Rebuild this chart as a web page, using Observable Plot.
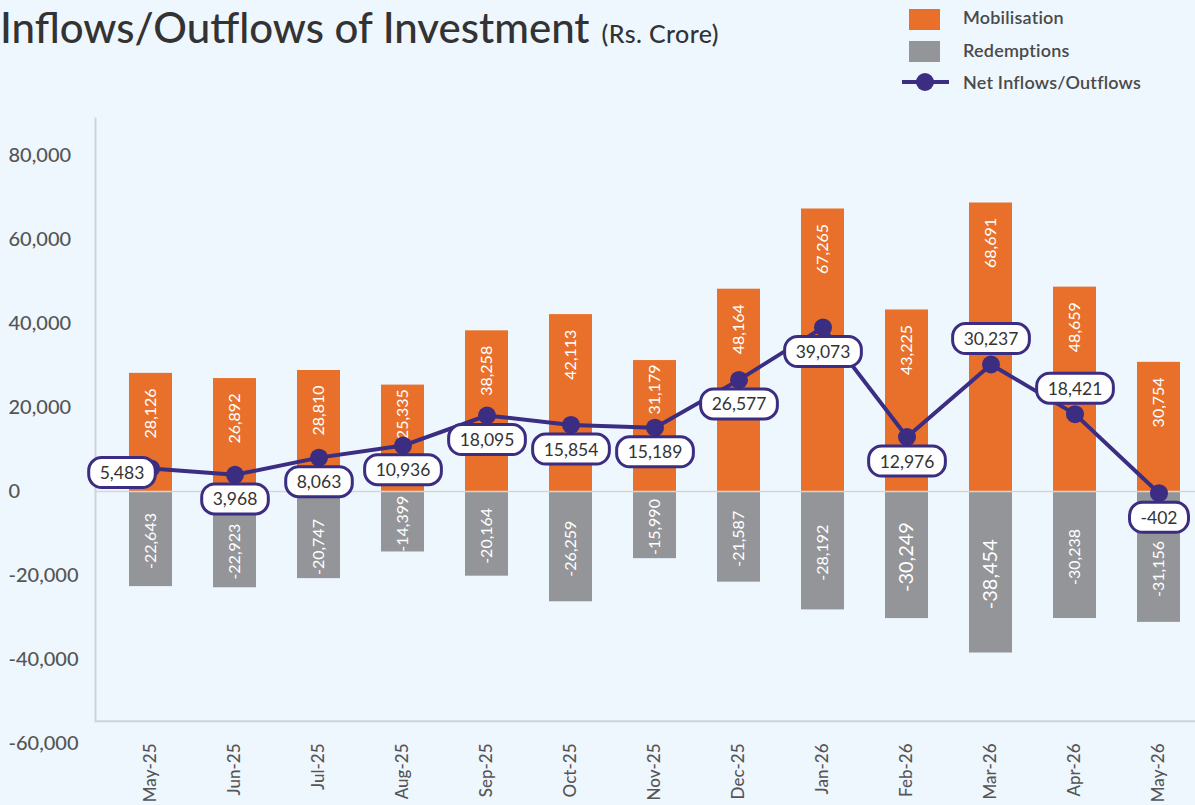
<!DOCTYPE html>
<html>
<head>
<meta charset="utf-8">
<script src="https://cdn.jsdelivr.net/npm/d3@7"></script>
<script src="https://cdn.jsdelivr.net/npm/@observablehq/plot@0.6"></script>
<style>
  html, body { margin: 0; padding: 0; background: #EFF7FE; overflow: hidden; }
  #wrap { position: relative; width: 1195px; height: 805px; font-family: Lato, "Open Sans", sans-serif; }
  #header { position: relative; width: 1195px; height: 100px; }
  #title { position: absolute; left: 0px; top: 5px; white-space: nowrap; color: #333; font-size: 42px; line-height: 44px; font-weight: 500; }
  #title .unit { font-size: 25px; margin-left: 12px; letter-spacing: 0.4px; }
  .leg { position: absolute; left: 963px; font-size: 18px; font-weight: 600; color: #4a4a4a; line-height: 20px; white-space: nowrap; letter-spacing: 0.2px; }
  .sw { position: absolute; left: 909px; width: 31px; height: 21px; }
  #chart svg { display: block; }
</style>
</head>
<body>
<div id="wrap">
  <div id="header">
    <div id="title">Inflows/Outflows of Investment<span class="unit">(Rs. Crore)</span></div>
    <div class="sw" style="top:9px;background:#E8702A"></div>
    <div class="leg" style="top:7px">Mobilisation</div>
    <div class="sw" style="top:41px;background:#939598"></div>
    <div class="leg" style="top:40px">Redemptions</div>
    <svg style="position:absolute;left:900px;top:70px" width="52" height="24">
      <line x1="2" y1="12" x2="49" y2="12" stroke="#3B2D81" stroke-width="4"/>
      <circle cx="25" cy="12" r="9" fill="#3B2D81"/>
    </svg>
    <div class="leg" style="top:72px">Net Inflows/Outflows</div>
  </div>
  <div id="chart"></div>
</div>
<script>
const months = ["May-25","Jun-25","Jul-25","Aug-25","Sep-25","Oct-25","Nov-25","Dec-25","Jan-26","Feb-26","Mar-26","Apr-26","May-26"];
const mobilisation = [28126, 26892, 28810, 25335, 38258, 42113, 31179, 48164, 67265, 43225, 68691, 48659, 30754];
const redemptions = [-22643, -22923, -20747, -14399, -20164, -26259, -15990, -21587, -28192, -30249, -38454, -30238, -31156];
const netFlows = [5483, 3968, 8063, 10936, 18095, 15854, 15189, 26577, 39073, 12976, 30237, 18421, -402];
const yTicks = [-60000, -40000, -20000, 0, 20000, 40000, 60000, 80000];

const data = months.map((m, i) => ({month: m, mob: mobilisation[i], red: redemptions[i], net: netFlows[i]}));
const fmt = v => v.toLocaleString("en-US");

const ORANGE = "#E8702A", GRAY = "#939598", NAVY = "#3B2D81", LABEL = "#333334";
const aboveSet = new Set(["Mar-26", "Apr-26"]);
const leftSet = new Set(["May-25"]);
const bigRed = new Set(["Feb-26", "Mar-26"]);
// orange labels sit closer to the bar top when the net-flow dot is close below
const tight = d => d.mob - d.net < 19000;
// grey labels move down when the net-flow label box reaches below the zero line
const pushed = d => d.net < 9000 && !leftSet.has(d.month);

const svg = Plot.plot({
  width: 1195,
  height: 705,
  marginTop: 13,
  marginBottom: 62,
  marginLeft: 95,
  marginRight: 0,
  style: {background: "transparent", fontFamily: "Lato, 'Open Sans', sans-serif"},
  x: {type: "band", domain: months, range: [106.9, 1201.5], paddingInner: 0.49, paddingOuter: 0.245, axis: null, label: null},
  y: {domain: [-60000, 90000], axis: null, label: null},
  marks: [
    Plot.frame({anchor: "left", stroke: "#cfd3d6", strokeWidth: 2, insetTop: 5, insetBottom: 22.3}),
    Plot.ruleY([-54700], {stroke: "#cfd3d6", strokeWidth: 2}),
    Plot.barY(data, {x: "month", y: "mob", fill: ORANGE}),
    Plot.barY(data, {x: "month", y: "red", fill: GRAY}),
    Plot.ruleY([0], {stroke: "#d3d6d9", strokeWidth: 1.5}),
    Plot.axisY({ticks: yTicks, tickSize: 0, tickPadding: 87, textAnchor: "start", tickFormat: fmt, fontSize: 20, fill: "#555", fontWeight: 500, label: null}),
    Plot.axisX({tickSize: 0, tickPadding: 0, tickRotate: -90, fontSize: 17, fill: "#555", fontWeight: 500, label: null}),
    Plot.text(data.filter(d => !tight(d)), {x: "month", y: "mob", text: d => fmt(d.mob), rotate: -90, textAnchor: "end", lineAnchor: "middle", dy: 15, fill: "white", fontSize: 16}),
    Plot.text(data.filter(tight), {x: "month", y: "mob", text: d => fmt(d.mob), rotate: -90, textAnchor: "end", lineAnchor: "middle", dy: 4, fill: "white", fontSize: 16}),
    Plot.text(data.filter(d => !pushed(d)), {x: "month", y: d => d.red / 2, text: d => fmt(d.red), rotate: -90, textAnchor: "middle", lineAnchor: "middle", dy: 2, fill: "white", fontSize: d => bigRed.has(d.month) ? 20 : 16}),
    Plot.text(data.filter(pushed), {x: "month", y: d => d.red / 2, text: d => fmt(d.red), rotate: -90, textAnchor: "middle", lineAnchor: "middle", dy: 12, fill: "white", fontSize: d => bigRed.has(d.month) ? 20 : 16}),
    Plot.line(data, {x: "month", y: "net", stroke: NAVY, strokeWidth: 4}),
    Plot.dot(data, {x: "month", y: "net", r: 9, fill: NAVY}),
    Plot.text(data.filter(d => !aboveSet.has(d.month) && !leftSet.has(d.month)), {x: "month", y: "net", text: d => fmt(d.net), dy: 25, fill: LABEL, fontSize: 17.5}),
    Plot.text(data.filter(d => aboveSet.has(d.month)), {x: "month", y: "net", text: d => fmt(d.net), dy: -25, fill: LABEL, fontSize: 17.5}),
    Plot.text(data.filter(d => leftSet.has(d.month)), {x: "month", y: "net", text: d => fmt(d.net), dx: -29, dy: 5, fill: LABEL, fontSize: 17.5})
  ]
});
document.getElementById("chart").append(svg);

d3.select(svg).selectAll("text").each(function() {
  const g = this.parentNode;
  if (!g || g.getAttribute("fill") !== LABEL) return;
  const b = this.getBBox();
  const padX = 11, h = 30;
  const r = d3.select(g).insert("rect", () => this)
    .attr("x", b.x - padX)
    .attr("y", b.y + b.height / 2 - h / 2)
    .attr("width", b.width + 2 * padX)
    .attr("height", h)
    .attr("rx", 13)
    .attr("fill", "white")
    .attr("stroke", NAVY)
    .attr("stroke-width", 3);
  const t = this.getAttribute("transform");
  if (t) r.attr("transform", t);
});
</script>
</body>
</html>
